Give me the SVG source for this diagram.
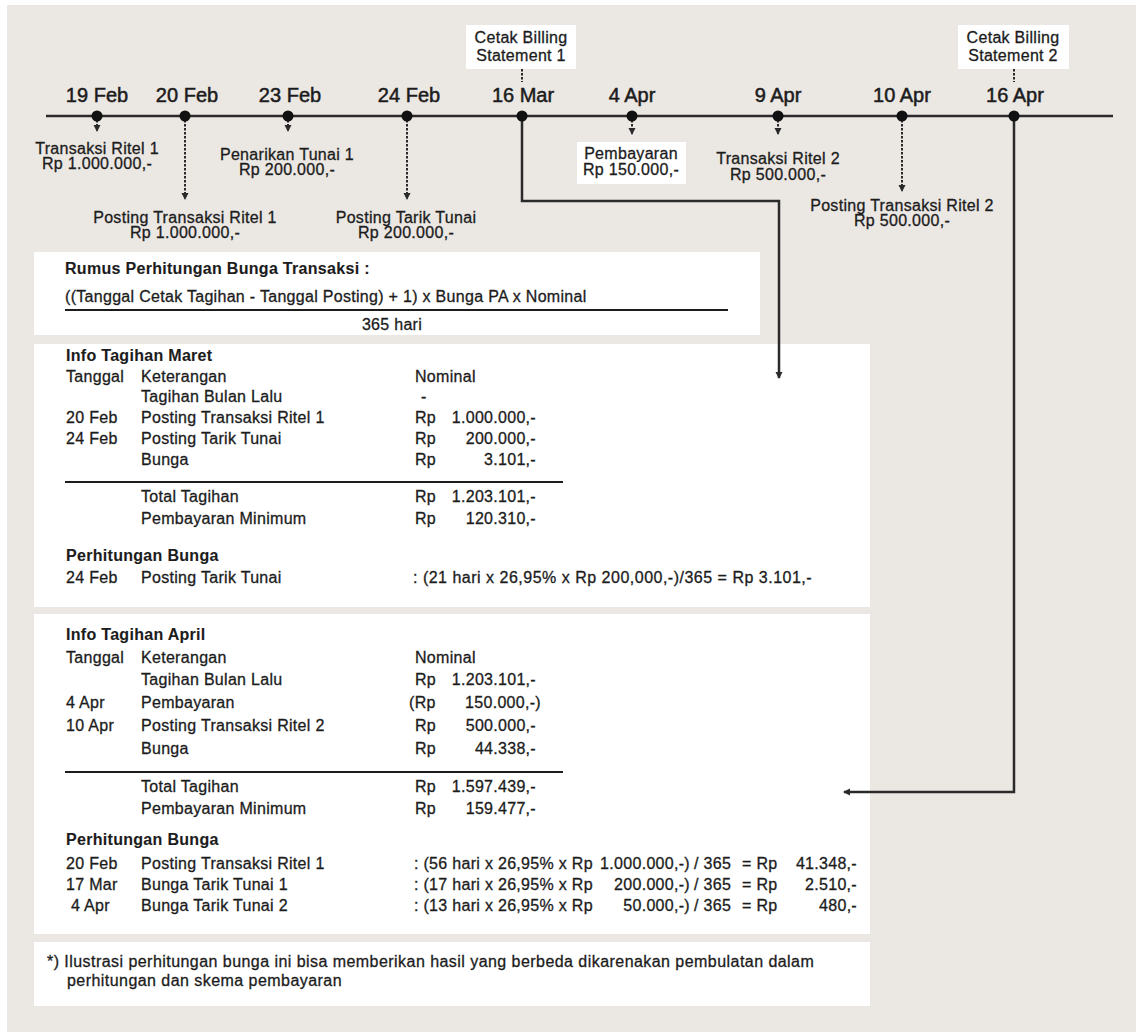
<svg xmlns="http://www.w3.org/2000/svg" width="1136" height="1032" viewBox="0 0 1136 1032">
<style>
.t{font-family:"Liberation Sans",Arial,Helvetica,sans-serif;font-size:16px;letter-spacing:0.3px;fill:#1c1c1c;stroke:#1c1c1c;stroke-width:0.3px}
.b{font-weight:bold;stroke-width:0.1px}
.d{font-size:20px;letter-spacing:0;stroke-width:0.5px}
.w{letter-spacing:0.5px}
.m{text-anchor:middle}
.e{text-anchor:end}
.solid{stroke:#2a2a2a;stroke-width:2.5;fill:none}
.dash{stroke:#2a2a2a;stroke-width:2;stroke-dasharray:2.5 1.5;fill:none}
.sep{stroke:#1c1c1c;stroke-width:2}
.box{fill:#ffffff}
.dot{fill:#111}
</style>
<defs>
<marker id="ah" markerUnits="userSpaceOnUse" markerWidth="8" markerHeight="8" refX="6" refY="3.5" orient="auto">
<path d="M0,0 L7,3.5 L0,7 z" fill="#2a2a2a"/>
</marker>
</defs>
<rect x="0" y="0" width="1136" height="1032" fill="#ffffff"/>
<rect x="7" y="5" width="1129" height="1027" fill="#ebe7e3"/>

<!-- panels -->
<g id="formula">
<rect class="box" x="34" y="252" width="726" height="83"/>
<text class="t b" x="65" y="274">Rumus Perhitungan Bunga Transaksi :</text>
<text class="t" x="65" y="302">((Tanggal Cetak Tagihan - Tanggal Posting) + 1) x Bunga PA x Nominal</text>
<line class="sep" x1="65" y1="310" x2="728" y2="310"/>
<text class="t m" x="392" y="330">365 hari</text>
</g>

<g id="info-maret">
<rect class="box" x="34" y="344" width="836" height="263"/>
<text class="t b" x="66" y="361">Info Tagihan Maret</text>
<text class="t" x="66" y="382">Tanggal</text>
<text class="t" x="141" y="382">Keterangan</text>
<text class="t" x="415" y="382">Nominal</text>
<text class="t" x="141" y="402">Tagihan Bulan Lalu</text>
<text class="t" x="421" y="402">-</text>
<text class="t" x="66" y="423">20 Feb</text>
<text class="t" x="141" y="423">Posting Transaksi Ritel 1</text>
<text class="t" x="415" y="423">Rp</text>
<text class="t e" x="536" y="423">1.000.000,-</text>
<text class="t" x="66" y="444">24 Feb</text>
<text class="t" x="141" y="444">Posting Tarik Tunai</text>
<text class="t" x="415" y="444">Rp</text>
<text class="t e" x="536" y="444">200.000,-</text>
<text class="t" x="141" y="465">Bunga</text>
<text class="t" x="415" y="465">Rp</text>
<text class="t e" x="536" y="465">3.101,-</text>
<line class="sep" x1="65" y1="482" x2="563" y2="482"/>
<text class="t" x="141" y="502">Total Tagihan</text>
<text class="t" x="415" y="502">Rp</text>
<text class="t e" x="536" y="502">1.203.101,-</text>
<text class="t" x="141" y="524">Pembayaran Minimum</text>
<text class="t" x="415" y="524">Rp</text>
<text class="t e" x="536" y="524">120.310,-</text>
<text class="t b" x="66" y="561">Perhitungan Bunga</text>
<text class="t" x="66" y="583">24 Feb</text>
<text class="t" x="141" y="583">Posting Tarik Tunai</text>
<text class="t w" x="413" y="583">: (21 hari x 26,95% x Rp 200,000,-)/365 = Rp 3.101,-</text>
</g>

<g id="info-april">
<rect class="box" x="34" y="614" width="836" height="320"/>
<text class="t b" x="66" y="640">Info Tagihan April</text>
<text class="t" x="66" y="663">Tanggal</text>
<text class="t" x="141" y="663">Keterangan</text>
<text class="t" x="415" y="663">Nominal</text>
<text class="t" x="141" y="685">Tagihan Bulan Lalu</text>
<text class="t" x="415" y="685">Rp</text>
<text class="t e" x="536" y="685">1.203.101,-</text>
<text class="t" x="66" y="708">4 Apr</text>
<text class="t" x="141" y="708">Pembayaran</text>
<text class="t" x="409" y="708">(Rp</text>
<text class="t e" x="541" y="708">150.000,-)</text>
<text class="t" x="66" y="731">10 Apr</text>
<text class="t" x="141" y="731">Posting Transaksi Ritel 2</text>
<text class="t" x="415" y="731">Rp</text>
<text class="t e" x="536" y="731">500.000,-</text>
<text class="t" x="141" y="754">Bunga</text>
<text class="t" x="415" y="754">Rp</text>
<text class="t e" x="536" y="754">44.338,-</text>
<line class="sep" x1="65" y1="772" x2="563" y2="772"/>
<text class="t" x="141" y="792">Total Tagihan</text>
<text class="t" x="415" y="792">Rp</text>
<text class="t e" x="536" y="792">1.597.439,-</text>
<text class="t" x="141" y="814">Pembayaran Minimum</text>
<text class="t" x="415" y="814">Rp</text>
<text class="t e" x="536" y="814">159.477,-</text>
<text class="t b" x="66" y="845">Perhitungan Bunga</text>
<text class="t" x="66" y="869">20 Feb</text>
<text class="t" x="141" y="869">Posting Transaksi Ritel 1</text>
<text class="t" x="414" y="869">: (56 hari x 26,95% x Rp</text>
<text class="t e" x="690" y="869">1.000.000,-)</text>
<text class="t" x="694" y="869">/ 365</text>
<text class="t" x="742" y="869">= Rp</text>
<text class="t e" x="857" y="869">41.348,-</text>
<text class="t" x="66" y="890">17 Mar</text>
<text class="t" x="141" y="890">Bunga Tarik Tunai 1</text>
<text class="t" x="414" y="890">: (17 hari x 26,95% x Rp</text>
<text class="t e" x="690" y="890">200.000,-)</text>
<text class="t" x="694" y="890">/ 365</text>
<text class="t" x="742" y="890">= Rp</text>
<text class="t e" x="857" y="890">2.510,-</text>
<text class="t" x="71" y="911">4 Apr</text>
<text class="t" x="141" y="911">Bunga Tarik Tunai 2</text>
<text class="t" x="414" y="911">: (13 hari x 26,95% x Rp</text>
<text class="t e" x="690" y="911">50.000,-)</text>
<text class="t" x="694" y="911">/ 365</text>
<text class="t" x="742" y="911">= Rp</text>
<text class="t e" x="857" y="911">480,-</text>
</g>

<g id="footnote">
<rect class="box" x="34" y="942" width="836" height="64"/>
<text class="t" x="47" y="967" style="letter-spacing:0.45px">*) Ilustrasi perhitungan bunga ini bisa memberikan hasil yang berbeda dikarenakan pembulatan dalam</text>
<text class="t" x="67" y="986" style="letter-spacing:0.45px">perhitungan dan skema pembayaran</text>
</g>

<!-- connectors -->
<g id="connectors">
<line class="solid" x1="46" y1="116" x2="1113" y2="116"/>
<line class="dash" x1="97" y1="116" x2="97" y2="131" marker-end="url(#ah)"/>
<line class="dash" x1="185" y1="116" x2="185" y2="199" marker-end="url(#ah)"/>
<line class="dash" x1="288" y1="116" x2="288" y2="131" marker-end="url(#ah)"/>
<line class="dash" x1="407" y1="116" x2="407" y2="199" marker-end="url(#ah)"/>
<line class="dash" x1="632" y1="116" x2="632" y2="134" marker-end="url(#ah)"/>
<line class="dash" x1="778" y1="116" x2="778" y2="134" marker-end="url(#ah)"/>
<line class="dash" x1="902" y1="116" x2="902" y2="191" marker-end="url(#ah)"/>
<line class="dash" x1="522" y1="69" x2="522" y2="82"/>
<line class="dash" x1="1014" y1="69" x2="1014" y2="82"/>
<polyline class="solid" points="522,116 522,201 779,201 779,378" marker-end="url(#ah)"/>
<polyline class="solid" points="1014,116 1014,792 844,792" marker-end="url(#ah)"/>
</g>

<!-- timeline nodes -->
<g id="n-19feb">
<circle class="dot" cx="97" cy="116" r="5.5"/>
<text class="t d m" x="97" y="102">19 Feb</text>
<text class="t m" x="97" y="154">Transaksi Ritel 1</text>
<text class="t m" x="97" y="169">Rp 1.000.000,-</text>
</g>
<g id="n-20feb">
<circle class="dot" cx="185" cy="116" r="5.5"/>
<text class="t d m" x="187" y="102">20 Feb</text>
<text class="t m" x="185" y="223">Posting Transaksi Ritel 1</text>
<text class="t m" x="185" y="238">Rp 1.000.000,-</text>
</g>
<g id="n-23feb">
<circle class="dot" cx="288" cy="116" r="5.5"/>
<text class="t d m" x="290" y="102">23 Feb</text>
<text class="t m" x="287" y="160">Penarikan Tunai 1</text>
<text class="t m" x="287" y="175">Rp 200.000,-</text>
</g>
<g id="n-24feb">
<circle class="dot" cx="407" cy="116" r="5.5"/>
<text class="t d m" x="409" y="102">24 Feb</text>
<text class="t m" x="406" y="223">Posting Tarik Tunai</text>
<text class="t m" x="406" y="238">Rp 200.000,-</text>
</g>
<g id="n-16mar">
<circle class="dot" cx="522" cy="116" r="5.5"/>
<text class="t d m" x="523" y="102">16 Mar</text>
<rect class="box" x="466" y="25" width="110" height="44"/>
<text class="t m" x="521" y="43">Cetak Billing</text>
<text class="t m" x="521" y="61">Statement 1</text>
</g>
<g id="n-4apr">
<circle class="dot" cx="632" cy="116" r="5.5"/>
<text class="t d m" x="632" y="102">4 Apr</text>
<rect class="box" x="577" y="142" width="109" height="42"/>
<text class="t m" x="631" y="159">Pembayaran</text>
<text class="t m" x="631" y="175">Rp 150.000,-</text>
</g>
<g id="n-9apr">
<circle class="dot" cx="778" cy="116" r="5.5"/>
<text class="t d m" x="778" y="102">9 Apr</text>
<text class="t m" x="778" y="164">Transaksi Ritel 2</text>
<text class="t m" x="778" y="180">Rp 500.000,-</text>
</g>
<g id="n-10apr">
<circle class="dot" cx="902" cy="116" r="5.5"/>
<text class="t d m" x="902" y="102">10 Apr</text>
<text class="t m" x="902" y="211">Posting Transaksi Ritel 2</text>
<text class="t m" x="902" y="226">Rp 500.000,-</text>
</g>
<g id="n-16apr">
<circle class="dot" cx="1014" cy="116" r="5.5"/>
<text class="t d m" x="1015" y="102">16 Apr</text>
<rect class="box" x="958" y="25" width="111" height="44"/>
<text class="t m" x="1013" y="43">Cetak Billing</text>
<text class="t m" x="1013" y="61">Statement 2</text>
</g>
</svg>
